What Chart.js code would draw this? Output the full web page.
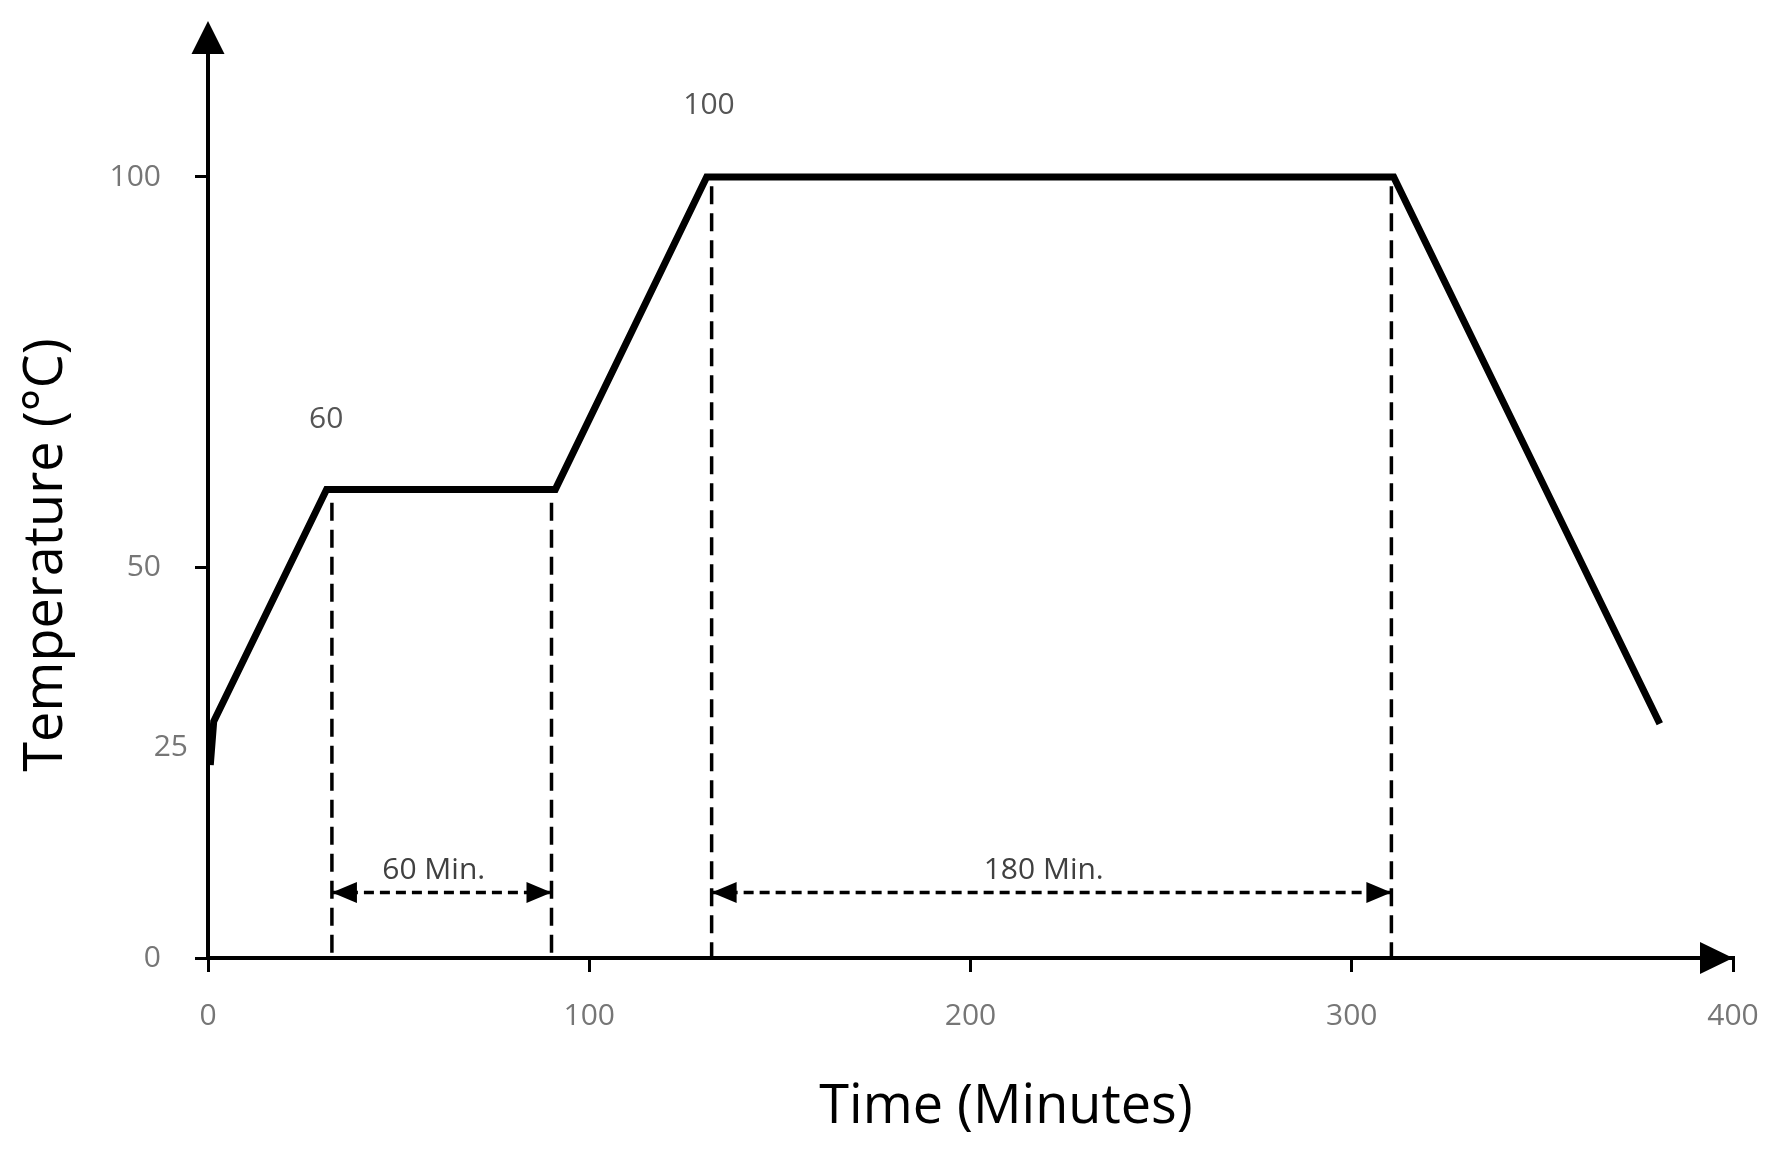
<!DOCTYPE html>
<html><head><meta charset="utf-8">
<script src="https://cdn.jsdelivr.net/npm/chart.js@4"></script>
<style>html,body{margin:0;padding:0;background:#fff}</style>
</head><body>
<canvas id="c" width="1785" height="1170" style="width:1785px;height:1170px;display:block"></canvas>
<script>
// ---- data ----
const profileTime = [0.6, 1.5, 31.1, 91.1, 130.8, 311.0, 380.8];
const profileTemp = [24.7, 30.3, 60, 60, 100, 100, 30];
const xTicks = [0, 100, 200, 300, 400];
const yTicks = [0, 50, 100];
const extraYLabelText = ['25'];
const extraYLabelValue = [26.9];
const guideTimes = [32.5, 90.1, 132.1, 310.4];
const guideTops = [58.3, 58.3, 98.8, 98.8];
const spanStart = [32.5, 132.1];
const spanEnd = [90.1, 310.4];
const spanLabels = ['60 Min.', '180 Min.'];
const spanLabelTime = [59.2, 219.2];
const spanLevel = 8.4;
const spanLabelLevel = 11.2;
const peakLabels = ['60', '100'];
const peakLabelTime = [31.0, 131.4];
const peakLabelTemp = [69.0, 109.2];
const xTitle = 'Time (Minutes)';
const yTitle = 'Temperature (°C)';

const FONT = "'Open Sans', 'Noto Sans', sans-serif";

const datasets = [];
datasets.push({
  data: profileTime.map((t, i) => ({x: t, y: profileTemp[i]})),
  borderColor: '#000', borderWidth: 7, pointRadius: 0, tension: 0,
  borderJoinStyle: 'miter', borderCapStyle: 'butt', fill: false
});
guideTimes.forEach((t, i) => datasets.push({
  data: [{x: t, y: guideTops[i]}, {x: t, y: 0}],
  borderColor: '#000', borderWidth: 3.5, borderDash: [18, 9], pointRadius: 0, fill: false
}));
spanStart.forEach((s, i) => datasets.push({
  data: [{x: s, y: spanLevel}, {x: spanEnd[i], y: spanLevel}],
  borderColor: '#000', borderWidth: 3.5, borderDash: [10, 6], pointRadius: 0, fill: false
}));

const decor = {
  id: 'decor',
  afterDraw(chart) {
    const {ctx, chartArea: ca, scales: {x, y}} = chart;
    ctx.save();
    ctx.fillStyle = '#000';
    // y-axis arrow
    const ax = x.getPixelForValue(0);
    ctx.beginPath();
    ctx.moveTo(ax, ca.top - 31);
    ctx.lineTo(ax - 16.5, ca.top + 2);
    ctx.lineTo(ax + 16.5, ca.top + 2);
    ctx.closePath(); ctx.fill();
    // x-axis arrow
    const ay = y.getPixelForValue(0);
    const xr = x.getPixelForValue(400);
    ctx.beginPath();
    ctx.moveTo(xr, ay);
    ctx.lineTo(xr - 33, ay - 16);
    ctx.lineTo(xr - 33, ay + 16);
    ctx.closePath(); ctx.fill();
    // span arrowheads + labels
    spanStart.forEach((s, i) => {
      const py = y.getPixelForValue(spanLevel);
      const p0 = x.getPixelForValue(s), p1 = x.getPixelForValue(spanEnd[i]);
      ctx.fillStyle = '#000';
      ctx.beginPath();
      ctx.moveTo(p0, py); ctx.lineTo(p0 + 25, py - 10.5); ctx.lineTo(p0 + 25, py + 10.5);
      ctx.closePath(); ctx.fill();
      ctx.beginPath();
      ctx.moveTo(p1, py); ctx.lineTo(p1 - 25, py - 10.5); ctx.lineTo(p1 - 25, py + 10.5);
      ctx.closePath(); ctx.fill();
      ctx.font = `30px ${FONT}`;
      ctx.fillStyle = '#404040';
      ctx.textAlign = 'center'; ctx.textBaseline = 'middle';
      ctx.fillText(spanLabels[i], x.getPixelForValue(spanLabelTime[i]), y.getPixelForValue(spanLabelLevel));
    });
    // peak labels
    ctx.font = `30px ${FONT}`;
    ctx.fillStyle = '#555';
    ctx.textAlign = 'center'; ctx.textBaseline = 'middle';
    peakLabels.forEach((l, i) => ctx.fillText(l, x.getPixelForValue(peakLabelTime[i]), y.getPixelForValue(peakLabelTemp[i])));
    // extra y label
    ctx.fillStyle = '#767676';
    ctx.textAlign = 'right';
    extraYLabelText.forEach((l, i) => ctx.fillText(l, ax - 20, y.getPixelForValue(extraYLabelValue[i])));
    // axis titles
    ctx.fillStyle = '#000';
    ctx.font = `54px ${FONT}`;
    ctx.textAlign = 'center'; ctx.textBaseline = 'middle';
    ctx.fillText(xTitle, 1006, 1108);
    ctx.translate(47, 555);
    ctx.rotate(-Math.PI / 2);
    ctx.fillText(yTitle, 0, 0);
    ctx.restore();
  }
};

new Chart(document.getElementById('c'), {
  type: 'line',
  data: {datasets},
  options: {
    responsive: false,
    animation: false,
    events: [],
    layout: {padding: {top: 51, right: 52, left: 0, bottom: 0}},
    plugins: {legend: {display: false}, tooltip: {enabled: false}},
    scales: {
      x: {
        type: 'linear', min: 0, max: 400,
        afterBuildTicks: s => { s.ticks = xTicks.map(v => ({value: v})); },
        afterFit: s => { s.height = 212; },
        border: {display: true, color: '#000', width: 4},
        grid: {drawOnChartArea: false, drawTicks: true, tickLength: 14, color: '#000', lineWidth: 3},
        ticks: {color: '#767676', font: {family: FONT, size: 30}, padding: 26, maxRotation: 0}
      },
      y: {
        type: 'linear', min: 0, max: 116,
        afterBuildTicks: s => { s.ticks = yTicks.map(v => ({value: v})); },
        afterFit: s => { s.width = 208; },
        border: {display: true, color: '#000', width: 4},
        grid: {drawOnChartArea: false, drawTicks: true, tickLength: 13, color: '#000', lineWidth: 3},
        ticks: {color: '#767676', font: {family: FONT, size: 30}, padding: 34}
      }
    }
  },
  plugins: [decor]
});
</script>
</body></html>
